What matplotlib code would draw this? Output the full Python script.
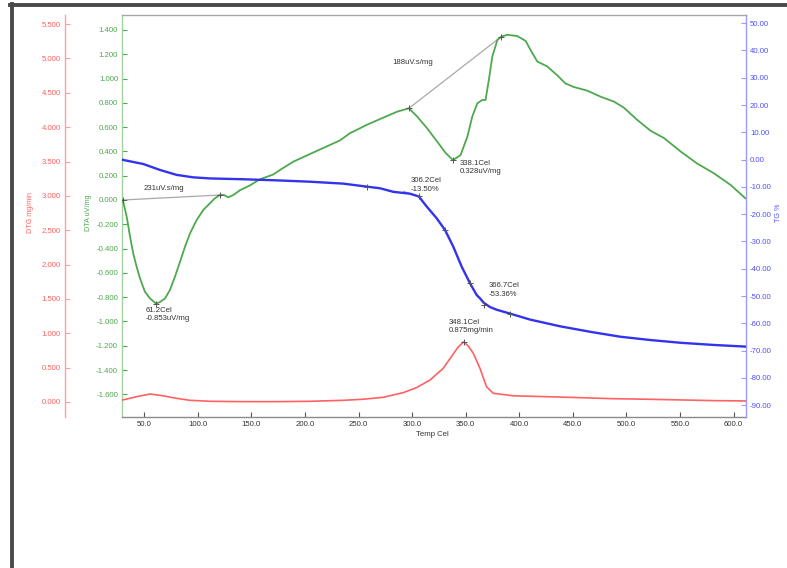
import numpy as np
import matplotlib
matplotlib.use("Agg")
import matplotlib.pyplot as plt
from matplotlib.lines import Line2D
from matplotlib.ticker import FixedLocator, FormatStrFormatter

# ---- measured data -------------------------------------------------------
dta_temp = [30.0, 33.6, 36.7, 39.7, 42.9, 46.0, 50.6, 55.3, 59.9, 61.2, 64.7,
            69.4, 74.0, 78.7, 83.3, 88.0, 92.7, 98.9, 105.1, 111.3, 115.9,
            120.6, 124.3, 128.3, 132.9, 139.3, 148.6, 157.9, 170.4, 176.6,
            189.0, 205.0, 220.0, 232.5, 242.0, 258.0, 273.6, 286.0, 297.0,
            304.8, 314.0, 323.4, 331.0, 338.1, 345.2, 351.5, 356.1, 360.8,
            365.4, 368.5, 371.6, 374.8, 379.5, 383.2, 388.8, 398.1, 405.9,
            410.5, 416.8, 426.0, 435.0, 443.0, 451.0, 463.5, 476.0, 488.3,
            497.6, 510.0, 522.5, 535.0, 550.5, 566.0, 581.6, 597.2, 611.0]
dta_uv = [0.000, -0.137, -0.300, -0.440, -0.550, -0.645, -0.755, -0.810,
          -0.845, -0.853, -0.840, -0.810, -0.740, -0.630, -0.510, -0.385,
          -0.275, -0.165, -0.082, -0.027, 0.014, 0.041, 0.041, 0.022, 0.040,
          0.080, 0.120, 0.170, 0.210, 0.247, 0.315, 0.380, 0.440, 0.490,
          0.550, 0.620, 0.680, 0.727, 0.755, 0.686, 0.590, 0.480, 0.390,
          0.328, 0.370, 0.520, 0.686, 0.796, 0.823, 0.823, 0.990, 1.180,
          1.317, 1.345, 1.360, 1.350, 1.310, 1.235, 1.140, 1.100, 1.030,
          0.960, 0.930, 0.900, 0.850, 0.810, 0.760, 0.660, 0.570, 0.510,
          0.400, 0.300, 0.220, 0.124, 0.014]

tg_temp = [30.0, 49.0, 64.7, 80.2, 95.7, 111.3, 142.4, 173.6, 204.7, 235.7,
           257.6, 270.0, 282.4, 298.0, 306.2, 313.6, 322.9, 330.7, 338.4,
           346.2, 354.0, 360.2, 363.3, 366.7, 372.6, 378.9, 391.3, 410.0,
           438.5, 466.5, 494.5, 522.5, 550.5, 581.6, 611.0]
tg_pct = [-0.1, -1.6, -3.8, -5.6, -6.5, -6.9, -7.2, -7.6, -8.1, -8.8, -9.9,
          -10.5, -11.8, -12.5, -13.5, -17.2, -21.5, -25.8, -31.9, -39.2,
          -45.3, -49.6, -50.8, -52.4, -54.0, -55.0, -56.4, -58.6, -61.1,
          -63.1, -64.9, -66.1, -67.1, -67.9, -68.5]

dtg_temp = [30.0, 42.9, 55.3, 67.7, 80.2, 92.7, 111.3, 142.5, 173.6, 204.7,
            235.7, 254.4, 273.0, 291.7, 304.2, 316.7, 329.0, 338.4, 343.0,
            348.1, 352.4, 357.0, 363.3, 369.5, 375.7, 394.4, 425.5, 456.6,
            487.5, 518.9, 550.0, 581.0, 611.0]
dtg_rate = [0.030, 0.077, 0.116, 0.090, 0.053, 0.024, 0.010, 0.005, 0.005,
            0.010, 0.024, 0.040, 0.068, 0.136, 0.210, 0.320, 0.490, 0.700,
            0.800, 0.875, 0.815, 0.710, 0.490, 0.220, 0.127, 0.090, 0.077,
            0.063, 0.048, 0.040, 0.030, 0.020, 0.015]

temp_ticks = [50, 100, 150, 200, 250, 300, 350, 400, 450, 500, 550, 600]
dta_ticks = [-1.6, -1.4, -1.2, -1.0, -0.8, -0.6, -0.4, -0.2, 0.0, 0.2, 0.4,
             0.6, 0.8, 1.0, 1.2, 1.4]
tg_ticks = [-90, -80, -70, -60, -50, -40, -30, -20, -10, 0, 10, 20, 30, 40, 50]
dtg_ticks = [0.0, 0.5, 1.0, 1.5, 2.0, 2.5, 3.0, 3.5, 4.0, 4.5, 5.0, 5.5]

# peak / step evaluation points
dta_int1 = ([30.0, 120.6], [0.000, 0.041])
dta_int2 = ([297.0, 383.2], [0.755, 1.345])
dta_peak_a = (61.2, -0.853)
dta_peak_b = (338.1, 0.328)
tg_onset = (306.2, -13.50)
tg_end = (366.7, -53.36)
tg_marks_t = [257.6, 331.0, 354.0, 391.3]
tg_marks_v = [-9.9, -25.8, -45.3, -56.4]
dtg_peak = (348.1, 0.875)

# ---- styling -------------------------------------------------------------
W, H = 787, 568
GREEN, GREEN_AX = "#4ea84e", "#9fd29f"
BLUE, BLUE_AX = "#3333ee", "#9a9aff"
RED, RED_AX = "#ff6262", "#ffa0a0"
TXT = "#333333"
FAM = ["Liberation Sans Narrow", "Liberation Sans", "DejaVu Sans"]
plt.rcParams["font.family"] = FAM

fig = plt.figure(figsize=(W / 100, H / 100), dpi=100)
fig.patch.set_facecolor("white")

left, right, top, bottom = 122.3, 745.7, 15.0, 417.3
ax = fig.add_axes([left / W, 1 - bottom / H, (right - left) / W, (bottom - top) / H])
tg_ax = ax.twinx()
dtg_ax = ax.twinx()

ax.set_xlim(29.5, 611.3)
ax.set_ylim(-1.789, 1.523)
tg_ax.set_ylim(-94.4, 52.97)
dtg_ax.set_ylim(-0.223, 5.633)

# spines
for s in ax.spines.values():
    s.set_visible(False)
ax.spines["left"].set_visible(True)
ax.spines["left"].set_color(GREEN_AX)
ax.spines["bottom"].set_visible(True)
ax.spines["bottom"].set_color("#8a8a8a")
ax.spines["top"].set_visible(True)
ax.spines["top"].set_color("#a8a8a8")

for s in tg_ax.spines.values():
    s.set_visible(False)
tg_ax.spines["right"].set_visible(True)
tg_ax.spines["right"].set_color(BLUE_AX)

for s in dtg_ax.spines.values():
    s.set_visible(False)
dtg_ax.yaxis.set_ticks_position("left")
dtg_ax.yaxis.set_label_position("left")
dtg_ax.spines["left"].set_visible(True)
dtg_ax.spines["left"].set_position(("axes", -(left - 65.0) / (right - left)))
dtg_ax.spines["left"].set_color(RED_AX)

for a in (ax, tg_ax, dtg_ax):
    a.patch.set_visible(False)
    for sp in a.spines.values():
        sp.set_linewidth(1.0)

# ticks
lab_kw = dict(labelsize=5.6, direction="in", length=3.5, width=0.8, pad=3)
ax.xaxis.set_major_locator(FixedLocator(temp_ticks))
ax.xaxis.set_major_formatter(FormatStrFormatter("%.1f"))
ax.tick_params(axis="x", colors="#555555", labelcolor="#333333", **lab_kw)
ax.yaxis.set_major_locator(FixedLocator(dta_ticks))
ax.yaxis.set_major_formatter(FormatStrFormatter("%.3f"))
ax.tick_params(axis="y", colors=GREEN, labelcolor=GREEN, **lab_kw)
tg_ax.yaxis.set_major_locator(FixedLocator(tg_ticks))
tg_ax.yaxis.set_major_formatter(FormatStrFormatter("%.2f"))
tg_ax.tick_params(axis="y", colors=BLUE_AX, labelcolor="#5050ff", **lab_kw)
dtg_ax.yaxis.set_major_locator(FixedLocator(dtg_ticks))
dtg_ax.yaxis.set_major_formatter(FormatStrFormatter("%.3f"))
dtg_ax.tick_params(axis="y", colors=RED_AX, labelcolor=RED, **lab_kw)

# curves
ax.plot(dta_temp, dta_uv, color=GREEN, lw=1.3, solid_joinstyle="round", zorder=3)
tg_ax.plot(tg_temp, tg_pct, color=BLUE, lw=1.7, solid_joinstyle="round", zorder=3)
dtg_ax.plot(dtg_temp, dtg_rate, color=RED, lw=1.2, solid_joinstyle="round", zorder=3)

# evaluation overlays
GRAY = "#a9a9a9"
mk = dict(marker="+", ms=5, mew=0.7, color="#555555", ls="none", zorder=4)
ax.plot(*dta_int1, color=GRAY, lw=0.9, zorder=2)
ax.plot(*dta_int2, color=GRAY, lw=0.9, zorder=2)
ax.plot(dta_int1[0], dta_int1[1], **mk)
ax.plot(dta_int2[0], dta_int2[1], **mk)
ax.plot([dta_peak_a[0], dta_peak_b[0]], [dta_peak_a[1], dta_peak_b[1]], **mk)
tg_ax.plot([292.0, tg_onset[0], 312.0], [-11.6, tg_onset[1], -16.5], color=GRAY, lw=0.8, zorder=2)
tg_ax.plot([tg_onset[0]], [tg_onset[1]], **mk)
tg_ax.plot(tg_marks_t, tg_marks_v, **mk)
tg_ax.plot([tg_end[0]], [tg_end[1]], **mk)
dtg_ax.plot([dtg_peak[0]], [dtg_peak[1]], **mk)

ann = dict(textcoords="offset pixels", fontsize=5.6, color=TXT, ha="left",
           family=["Liberation Sans", "DejaVu Sans"], linespacing=1.25)
ax.annotate("231uV.s/mg", xy=(30.0, 0.0), xytext=(21, 11), va="center", **ann)
ax.annotate(f"{dta_peak_a[0]:.1f}Cel\n{dta_peak_a[1]:.3f}uV/mg", xy=dta_peak_a,
            xytext=(-11, -3), va="top", **ann)
ax.annotate("188uV.s/mg", xy=(297.0, 0.755), xytext=(-17, 46), va="center", **ann)
ax.annotate(f"{dta_peak_b[0]:.1f}Cel\n{dta_peak_b[1]:.3f}uV/mg", xy=dta_peak_b,
            xytext=(7, 0), va="top", **ann)
tg_ax.annotate(f"{tg_onset[0]:.1f}Cel\n{tg_onset[1]:.2f}%", xy=tg_onset,
               xytext=(-8, 19), va="top", **ann)
tg_ax.annotate(f"{tg_end[0]:.1f}Cel\n{tg_end[1]:.2f}%", xy=tg_end,
               xytext=(5, 23), va="top", **ann)
dtg_ax.annotate(f"{dtg_peak[0]:.1f}Cel\n{dtg_peak[1]:.3f}mg/min", xy=dtg_peak,
                xytext=(-15, 23), va="top", **ann)

# axis titles
fig.text(31 / W, 1 - 213 / H, "DTG mg/min", rotation=90, color=RED, fontsize=5.2,
         ha="center", va="center")
fig.text(88 / W, 1 - 213 / H, "DTA uV/mg", rotation=90, color=GREEN, fontsize=5.2,
         ha="center", va="center")
fig.text(779 / W, 1 - 213 / H, "TG %", rotation=90, color="#5050ff", fontsize=5.2,
         ha="center", va="center")
fig.text(432 / W, 1 - 434 / H, "Temp Cel", color="#333333", fontsize=5.6,
         ha="center", va="center")

# window frame
fig.add_artist(Line2D([11.5 / W, 11.5 / W], [0, 1 - 4 / H], color="#4a4a4a",
                      lw=2.8, transform=fig.transFigure))
fig.add_artist(Line2D([10 / W, 1], [1 - 5 / H, 1 - 5 / H], color="#4a4a4a",
                      lw=2.8, transform=fig.transFigure))

fig.savefig("out.png", dpi=100, facecolor="white")
